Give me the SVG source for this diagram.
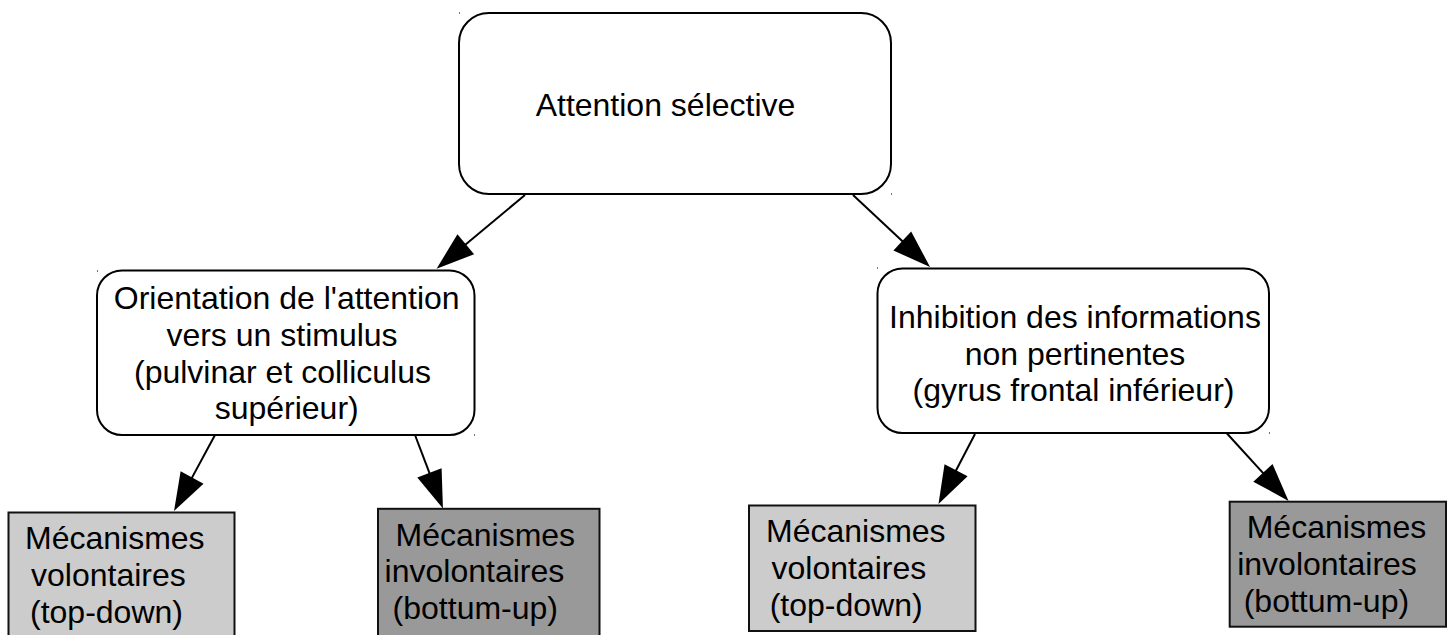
<svg xmlns="http://www.w3.org/2000/svg" width="1448" height="635" viewBox="0 0 1448 635">
<style>
.round{fill:#ffffff;stroke:#000000;stroke-width:2}
.light{fill:#cccccc;stroke:#111111;stroke-width:2}
.dark{fill:#999999;stroke:#111111;stroke-width:2}
.t{font-family:"Liberation Sans",Arial,sans-serif;font-size:32px;fill:#000000}
.c{text-anchor:middle}
.tick{fill:#777777}
.edge{stroke:#000000;stroke-width:2;fill:none;marker-end:url(#arrow)}
</style>
<defs>
<marker id="arrow" markerUnits="userSpaceOnUse" markerWidth="38" markerHeight="26" viewBox="0 0 38 26" refX="1" refY="13" orient="auto" overflow="visible">
<path d="M0,0 L38,13 L0,26 Z" fill="#000000"/>
</marker>
</defs>
<rect width="1448" height="635" fill="#ffffff"/>

<g id="connectors">
<line class="edge" x1="525" y1="195" x2="465" y2="245"/>
<line class="edge" x1="853" y1="195" x2="903" y2="241.7"/>
<line class="edge" x1="215" y1="435" x2="191.6" y2="478.4"/>
<line class="edge" x1="415" y1="435" x2="429.8" y2="473.9"/>
<line class="edge" x1="975" y1="434" x2="955.6" y2="471.2"/>
<line class="edge" x1="1227" y1="433.5" x2="1263.6" y2="473.6"/>
</g>

<g id="node-attention">
<rect class="round" x="459" y="13" width="432" height="181" rx="30" ry="30"/>
<rect class="tick" x="459" y="12" width="1" height="2"/>
<rect class="tick" x="891" y="193" width="1" height="2"/>
<text class="t c" x="665.5" y="115.5">Attention sélective</text>
</g>

<g id="node-orientation">
<rect class="round" x="97" y="270.5" width="377.5" height="164.5" rx="25" ry="25"/>
<rect class="tick" x="97" y="270" width="1" height="2"/>
<rect class="tick" x="474" y="434" width="1" height="2"/>
<text class="t c" x="286.7" y="309.3">Orientation de l'attention</text>
<text class="t c" x="282" y="345.9">vers un stimulus</text>
<text class="t c" x="282.5" y="382.5">(pulvinar et colliculus</text>
<text class="t c" x="286.7" y="419.1">supérieur)</text>
</g>

<g id="node-inhibition">
<rect class="round" x="877.5" y="268.5" width="391.5" height="164.5" rx="25" ry="25"/>
<rect class="tick" x="877" y="267" width="1" height="2"/>
<rect class="tick" x="1269" y="432" width="1" height="2"/>
<text class="t c" x="1075" y="328">Inhibition des informations</text>
<text class="t c" x="1075" y="364.5">non pertinentes</text>
<text class="t c" x="1073.5" y="401">(gyrus frontal inférieur)</text>
</g>

<g id="node-volontaires-1">
<rect class="light" x="8.5" y="512.5" width="226" height="130"/>
<text class="t" x="25" y="549.2">Mécanismes</text>
<text class="t" x="31" y="585.9">volontaires</text>
<text class="t" x="30" y="622.6">(top-down)</text>
</g>

<g id="node-involontaires-1">
<rect class="dark" x="378" y="508.8" width="221.5" height="135"/>
<text class="t" x="395.5" y="545.5">Mécanismes</text>
<text class="t" x="384.6" y="582.2">involontaires</text>
<text class="t" x="392.6" y="618.9">(bottum-up)</text>
</g>

<g id="node-volontaires-2">
<rect class="light" x="749" y="505.5" width="226.5" height="125.5"/>
<text class="t" x="766" y="542.2">Mécanismes</text>
<text class="t" x="771.5" y="578.9">volontaires</text>
<text class="t" x="769.7" y="615.6">(top-down)</text>
</g>

<g id="node-involontaires-2">
<rect class="dark" x="1229.7" y="501.7" width="216.3" height="125"/>
<text class="t" x="1246.7" y="538.4">Mécanismes</text>
<text class="t" x="1237.2" y="575.1">involontaires</text>
<text class="t" x="1243.7" y="611.8">(bottum-up)</text>
</g>
</svg>
